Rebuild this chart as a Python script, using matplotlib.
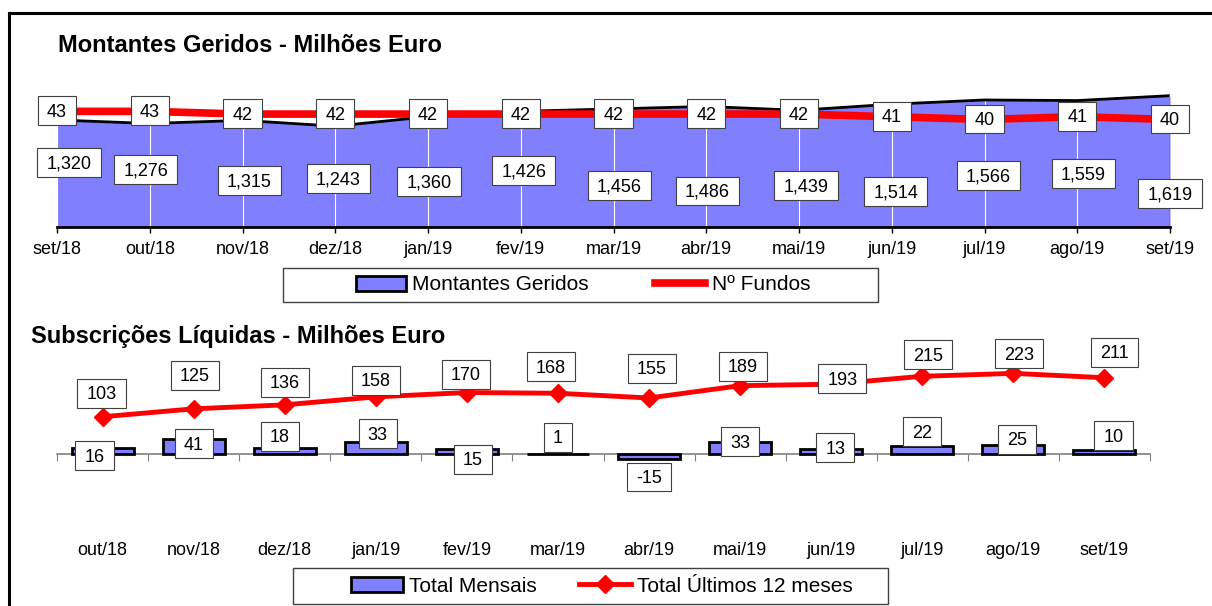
import matplotlib.pyplot as plt
import numpy as np
from matplotlib.lines import Line2D
from matplotlib.patches import Rectangle, Patch
from matplotlib.path import Path

plt.rcParams['font.family'] = ['Liberation Sans', 'DejaVu Sans']

# ---------- DADOS ----------
# Montantes geridos (gráfico de cima)
meses_top = ["set/18", "out/18", "nov/18", "dez/18", "jan/19", "fev/19", "mar/19",
             "abr/19", "mai/19", "jun/19", "jul/19", "ago/19", "set/19"]
montantes = [1320, 1276, 1315, 1243, 1360, 1426, 1456, 1486, 1439, 1514, 1566, 1559, 1619]
n_fundos = [43, 43, 42, 42, 42, 42, 42, 42, 42, 41, 40, 41, 40]

# Subscrições líquidas (gráfico de baixo)
meses_bot = ["out/18", "nov/18", "dez/18", "jan/19", "fev/19", "mar/19",
             "abr/19", "mai/19", "jun/19", "jul/19", "ago/19", "set/19"]
total_mensais = [16, 41, 18, 33, 15, 1, -15, 33, 13, 22, 25, 10]
total_12m = [103, 125, 136, 158, 170, 168, 155, 189, 193, 215, 223, 211]

# posição dos rótulos (deslocamento em pixels)
off_montantes = [(12, -43), (-4, -46), (7, -61), (3, -53), (1, -65), (3, -60), (6, -77),
                 (1, -85), (7, -76), (4, -88), (4, -76), (6, -73), (0, -98)]
off_mensais = [(-8, -8), (0, -5), (-5, 11), (2, 8), (6, -11), (0, 16), (0, -18),
               (0, 0), (4, 1), (0, 14), (4, 5), (9, 14)]
off_12m = [(-1, 23), (1, 33), (0, 22), (0, 16), (-1, 18), (-7, 26), (3, 29),
           (3, 19), (11, 5), (6, 21), (6, 19), (10, 25)]

AREA = "#8080FF"
W, H = 1212, 606


def fig_rect(x0, y0, x1, y1):
    return [x0 / W, 1 - y1 / H, (x1 - x0) / W, (y1 - y0) / H]


# caixa dos rótulos: mais margem na horizontal que na vertical,
# subida um pouco para os algarismos ficarem ao centro
def caixa(x0, y0, width, height, mutation_size):
    px = 0.5 * mutation_size
    py = 0.33 * mutation_size
    sobe = 0.08 * mutation_size
    xa, xb = x0 - px, x0 + width + px
    ya, yb = y0 - py + sobe, y0 + height + py + sobe
    return Path([(xa, ya), (xb, ya), (xb, yb), (xa, yb), (xa, ya)], closed=True)


def rotulo(ax, x, y, txt, dx=0, dy=0):
    ax.annotate(str(txt), (x, y), xytext=(dx, dy - 1), textcoords="offset pixels",
                ha="center", va="center", fontsize=13, zorder=6,
                bbox=dict(boxstyle=caixa, fc="white", ec="#404040", lw=0.8))


fig = plt.figure(figsize=(W / 100, H / 100), dpi=100)

# ---------- GRÁFICO 1 ----------
ax1 = fig.add_axes(fig_rect(57, 81, 1170, 227))
x1 = np.arange(len(meses_top))
ax1.fill_between(x1, montantes, color=AREA, lw=0, zorder=1)
ax1.plot(x1, montantes, color="black", lw=2, zorder=2)
ax1.plot([x1[-1], x1[-1]], [0, montantes[-1]], color="#808080", lw=2, zorder=2)
ax1.set_xlim(0, len(x1) - 1)
ax1.set_ylim(0, 1800)
ax1.set_xticks(x1)
ax1.set_xticklabels(meses_top, fontsize=13)
ax1.grid(axis="x", color="white", lw=0.8)
ax1.set_yticks([])
for s in ["top", "left", "right"]:
    ax1.spines[s].set_visible(False)
ax1.spines["bottom"].set_linewidth(2)
ax1.tick_params(axis="x", length=4, width=1, pad=6)
for i, v in enumerate(montantes):
    rotulo(ax1, x1[i], v, f"{v:,}", *off_montantes[i])

ax1b = ax1.twinx()
ax1b.plot(x1, n_fundos, color="red", lw=5.5, solid_capstyle="butt", zorder=3)
ax1b.set_ylim(0, 54.3)
ax1b.set_yticks([])
for s in ax1b.spines.values():
    s.set_visible(False)
for i, v in enumerate(n_fundos):
    rotulo(ax1b, x1[i], v, v)

fig.add_artist(Rectangle((283 / W, 1 - 302 / H), 595 / W, 34 / H, transform=fig.transFigure,
                         fill=False, ec="#404040", lw=1))
fig.legend([Patch(fc=AREA, ec="black", lw=2), Line2D([], [], color="red", lw=5.5)],
           ["Montantes Geridos", "Nº Fundos"], loc="center",
           bbox_to_anchor=(583 / W, 1 - 285 / H), ncol=2, frameon=False, fontsize=15,
           handlelength=2.4, handletextpad=0.3, columnspacing=3.2, handleheight=0.7)

# ---------- GRÁFICO 2 ----------
ax2 = fig.add_axes(fig_rect(57, 360, 1150, 535))
x2 = np.arange(len(meses_bot))
ax2.bar(x2, total_mensais, width=0.68, color=AREA, edgecolor="black", lw=2, zorder=2)
ax2.plot(x2, total_12m, color="red", lw=3.5, marker="D", ms=9, zorder=3)
ax2.set_xlim(-0.5, len(x2) - 0.5)
ax2.set_ylim(-224, 260)
ax2.set_xticks(x2)
ax2.set_xticklabels(meses_bot, fontsize=13)
ax2.tick_params(axis="x", length=0, pad=5)
ax2.set_yticks([])
for s in ax2.spines.values():
    s.set_visible(False)

zero = 224 / (224 + 260)
sec = ax2.secondary_xaxis(zero)
sec.set_xticks(np.arange(len(x2) + 1) - 0.5)
sec.tick_params(axis="x", length=5, color="#808080", labelbottom=False, labeltop=False)
for s in sec.spines.values():
    s.set_color("#808080")
    s.set_linewidth(1.2)

for i, v in enumerate(total_mensais):
    rotulo(ax2, x2[i], v, v, *off_mensais[i])
for i, v in enumerate(total_12m):
    rotulo(ax2, x2[i], v, v, *off_12m[i])

fig.add_artist(Rectangle((293 / W, 1 - 604 / H), 595 / W, 36 / H, transform=fig.transFigure,
                         fill=False, ec="#404040", lw=1))
fig.legend([Patch(fc=AREA, ec="black", lw=2),
            Line2D([], [], color="red", lw=3.5, marker="D", ms=9)],
           ["Total Mensais", "Total Últimos 12 meses"], loc="center",
           bbox_to_anchor=(602 / W, 1 - 586 / H), ncol=2, frameon=False, fontsize=15,
           handlelength=2.5, handletextpad=0.3, columnspacing=2.0, handleheight=0.7)

# títulos
fig.text(58 / W, 1 - 45 / H, "Montantes Geridos - Milhões Euro", fontsize=17,
         fontweight="bold", va="center")
fig.text(31 / W, 1 - 337 / H, "Subscrições Líquidas - Milhões Euro", fontsize=17,
         fontweight="bold", va="center")

# moldura
fig.add_artist(Line2D([9 / W, 9 / W], [0, 1 - 12.5 / H], transform=fig.transFigure,
                      color="black", lw=2.2))
fig.add_artist(Line2D([9 / W, 1], [1 - 12.5 / H, 1 - 12.5 / H], transform=fig.transFigure,
                      color="black", lw=2.2))

fig.savefig("out.png", dpi=100)
